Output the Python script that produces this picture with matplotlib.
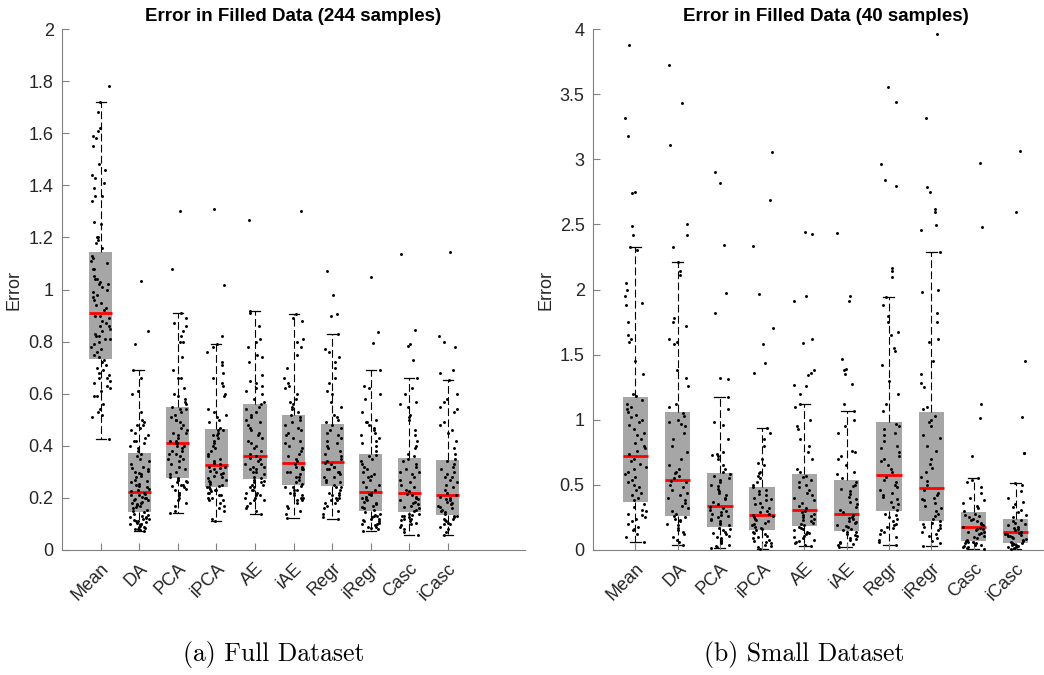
import matplotlib
matplotlib.use('Agg')
import matplotlib.pyplot as plt
import numpy as np

labels = ['Mean', 'DA', 'PCA', 'iPCA', 'AE', 'iAE', 'Regr', 'iRegr', 'Casc', 'iCasc']

# ---- full dataset (244 samples) ----
full_whislo = [0.428, 0.074, 0.143, 0.110, 0.140, 0.123, 0.120, 0.074, 0.056, 0.056]
full_q1 = [0.734, 0.147, 0.278, 0.243, 0.271, 0.250, 0.245, 0.151, 0.145, 0.135]
full_med = [0.909, 0.221, 0.412, 0.327, 0.359, 0.333, 0.338, 0.223, 0.220, 0.213]
full_q3 = [1.143, 0.373, 0.548, 0.464, 0.559, 0.517, 0.483, 0.370, 0.355, 0.347]
full_whishi = [1.719, 0.692, 0.908, 0.789, 0.916, 0.907, 0.830, 0.692, 0.662, 0.651]

full_mean = [0.428, 0.51, 0.52, 0.53, 0.54, 0.56, 0.59, 0.59, 0.61, 0.62, 0.63, 0.64, 0.65, 0.66,
             0.66, 0.67, 0.68, 0.69, 0.70, 0.71, 0.72, 0.73,
             0.74, 0.75, 0.76, 0.77, 0.78, 0.79, 0.80, 0.81, 0.81, 0.82, 0.82, 0.83, 0.84, 0.85,
             0.86, 0.86, 0.87, 0.88, 0.89, 0.90, 0.90,
             0.92, 0.93, 0.94, 0.95, 0.96, 0.97, 0.98, 0.99, 1.00, 1.01, 1.02, 1.02, 1.03, 1.04,
             1.04, 1.05, 1.08, 1.08, 1.10, 1.11, 1.12, 1.13,
             1.16, 1.18, 1.19, 1.20, 1.20, 1.25, 1.26, 1.34, 1.36, 1.36, 1.39, 1.41, 1.43, 1.44,
             1.46, 1.48, 1.55, 1.58, 1.59, 1.61, 1.62, 1.68, 1.719, 1.78]
full_da = [0.074, 0.078, 0.080, 0.082, 0.085, 0.088, 0.090, 0.092, 0.095, 0.098, 0.100, 0.100,
           0.105, 0.108, 0.110, 0.112, 0.115, 0.118, 0.120, 0.122, 0.125, 0.128, 0.130, 0.135,
           0.140, 0.145,
           0.150, 0.155, 0.160, 0.165, 0.170, 0.172, 0.175, 0.180, 0.182, 0.185, 0.190, 0.190,
           0.195, 0.200, 0.200, 0.205, 0.210, 0.212, 0.215, 0.218,
           0.225, 0.230, 0.235, 0.240, 0.245, 0.250, 0.255, 0.260, 0.265, 0.270, 0.280, 0.285,
           0.290, 0.295, 0.300, 0.305, 0.310, 0.315, 0.320, 0.330, 0.340, 0.350, 0.360, 0.370,
           0.38, 0.39, 0.40, 0.41, 0.42, 0.42, 0.43, 0.44, 0.45, 0.46, 0.47, 0.48, 0.48, 0.49,
           0.50, 0.53, 0.60, 0.61, 0.66, 0.692, 0.79, 0.84, 1.034]
full_pca = [0.143, 0.15, 0.17, 0.18, 0.19, 0.20, 0.21, 0.22, 0.22, 0.23, 0.235, 0.24, 0.245,
            0.25, 0.25, 0.26, 0.26, 0.265, 0.27, 0.27, 0.275,
            0.28, 0.29, 0.30, 0.31, 0.32, 0.33, 0.34, 0.35, 0.35, 0.36, 0.37, 0.37, 0.38, 0.38,
            0.39, 0.40, 0.40, 0.41, 0.41,
            0.42, 0.42, 0.43, 0.44, 0.45, 0.45, 0.46, 0.47, 0.48, 0.49, 0.50, 0.50, 0.51, 0.52,
            0.53, 0.54, 0.54,
            0.55, 0.56, 0.57, 0.58, 0.59, 0.60, 0.62, 0.66, 0.66, 0.69, 0.74, 0.80, 0.80, 0.82,
            0.84, 0.86, 0.87, 0.89, 0.908, 1.08, 1.30]
full_ipca = [0.110, 0.12, 0.15, 0.16, 0.17, 0.18, 0.19, 0.19, 0.20, 0.20, 0.21, 0.21, 0.22,
             0.22, 0.225, 0.23, 0.23, 0.235, 0.24, 0.24,
             0.245, 0.25, 0.255, 0.26, 0.265, 0.27, 0.275, 0.28, 0.285, 0.29, 0.295, 0.30,
             0.305, 0.31, 0.315, 0.32, 0.32,
             0.33, 0.335, 0.34, 0.35, 0.36, 0.37, 0.38, 0.39, 0.40, 0.41, 0.42, 0.43, 0.44, 0.44,
             0.45, 0.46, 0.46,
             0.47, 0.49, 0.50, 0.51, 0.52, 0.53, 0.54, 0.59, 0.60, 0.63, 0.64, 0.66, 0.68, 0.71,
             0.72, 0.76, 0.78, 0.789, 0.82, 1.017, 1.309]
full_ae = [0.140, 0.15, 0.16, 0.17, 0.18, 0.19, 0.19, 0.20, 0.20, 0.21, 0.21, 0.22, 0.22, 0.23,
           0.23, 0.24, 0.24, 0.25, 0.25, 0.26, 0.26, 0.265, 0.27,
           0.275, 0.28, 0.29, 0.30, 0.30, 0.31, 0.31, 0.32, 0.32, 0.33, 0.33, 0.34, 0.35, 0.355,
           0.36, 0.37, 0.38, 0.39, 0.40, 0.41, 0.42, 0.43, 0.44, 0.45, 0.46, 0.47, 0.48, 0.49,
           0.50, 0.51, 0.52, 0.53, 0.54, 0.55,
           0.56, 0.57, 0.58, 0.60, 0.61, 0.62, 0.63, 0.64, 0.65, 0.67, 0.72, 0.74, 0.75, 0.78,
           0.80, 0.81, 0.86, 0.91, 0.916, 1.266]
full_iae = [0.123, 0.14, 0.15, 0.16, 0.17, 0.18, 0.19, 0.19, 0.20, 0.20, 0.21, 0.21, 0.22, 0.22,
            0.23, 0.23, 0.24, 0.24, 0.245,
            0.255, 0.26, 0.27, 0.28, 0.28, 0.29, 0.30, 0.30, 0.31, 0.31, 0.32, 0.32, 0.33,
            0.34, 0.35, 0.36, 0.37, 0.38, 0.39, 0.40, 0.41, 0.42, 0.43, 0.44, 0.45, 0.46, 0.47,
            0.48, 0.49, 0.50, 0.51,
            0.52, 0.53, 0.54, 0.55, 0.56, 0.57, 0.58, 0.60, 0.62, 0.63, 0.64, 0.66, 0.70, 0.75,
            0.78, 0.80, 0.81, 0.88, 0.89, 0.907, 1.30]
full_regr = [0.120, 0.125, 0.14, 0.15, 0.16, 0.17, 0.18, 0.18, 0.19, 0.19, 0.20, 0.20, 0.21,
             0.21, 0.22, 0.22, 0.23, 0.24, 0.24,
             0.25, 0.26, 0.26, 0.27, 0.28, 0.28, 0.29, 0.30, 0.30, 0.31, 0.31, 0.32, 0.32, 0.33,
             0.335,
             0.34, 0.35, 0.36, 0.37, 0.38, 0.39, 0.40, 0.41, 0.42, 0.43, 0.44, 0.45, 0.46, 0.47,
             0.48,
             0.49, 0.50, 0.51, 0.52, 0.55, 0.57, 0.60, 0.61, 0.64, 0.66, 0.70, 0.72, 0.74, 0.76,
             0.77, 0.830, 0.900, 0.907, 0.977, 1.07]
full_iregr = [0.074, 0.080, 0.085, 0.088, 0.090, 0.095, 0.100, 0.100, 0.105, 0.110, 0.110,
              0.115, 0.120, 0.120, 0.125, 0.130, 0.130, 0.135, 0.140, 0.145,
              0.155, 0.160, 0.165, 0.170, 0.175, 0.180, 0.185, 0.190, 0.195, 0.200, 0.205,
              0.210, 0.215, 0.220,
              0.23, 0.24, 0.25, 0.26, 0.27, 0.28, 0.285, 0.29, 0.30, 0.31, 0.32, 0.33, 0.34,
              0.35, 0.36, 0.365,
              0.38, 0.40, 0.41, 0.42, 0.43, 0.44, 0.45, 0.46, 0.47, 0.48, 0.49, 0.49, 0.50, 0.53,
              0.58, 0.60, 0.62, 0.63, 0.692, 0.794, 0.835, 1.047]
full_casc = [0.056, 0.070, 0.080, 0.090, 0.095, 0.100, 0.105, 0.110, 0.115, 0.120, 0.120,
             0.125, 0.130, 0.130, 0.135, 0.140, 0.140,
             0.150, 0.155, 0.160, 0.165, 0.170, 0.175, 0.180, 0.185, 0.190, 0.195, 0.200,
             0.205, 0.210, 0.215,
             0.225, 0.23, 0.24, 0.25, 0.26, 0.27, 0.28, 0.29, 0.30, 0.30, 0.31, 0.32, 0.33,
             0.34, 0.35,
             0.36, 0.37, 0.39, 0.40, 0.42, 0.44, 0.46, 0.50, 0.51, 0.52, 0.55, 0.56, 0.57, 0.60,
             0.62, 0.662, 0.728, 0.785, 0.79, 0.845, 1.137]
full_icasc = [0.056, 0.070, 0.080, 0.090, 0.100, 0.100, 0.105, 0.110, 0.115, 0.120, 0.120,
              0.125, 0.130, 0.130,
              0.140, 0.145, 0.150, 0.155, 0.160, 0.165, 0.170, 0.175, 0.180, 0.185, 0.190,
              0.195, 0.200, 0.205, 0.210,
              0.22, 0.23, 0.24, 0.25, 0.26, 0.27, 0.28, 0.28, 0.29, 0.30, 0.31, 0.32, 0.33,
              0.34,
              0.35, 0.37, 0.39, 0.42, 0.45, 0.46, 0.48, 0.49, 0.53, 0.54, 0.55, 0.57, 0.58,
              0.60, 0.651, 0.68, 0.69, 0.78, 0.80, 0.82, 1.145]

# ---- small dataset (40 samples) ----
small_whislo = [0.061, 0.036, 0.013, 0.010, 0.031, 0.026, 0.038, 0.033, 0.010, 0.010]
small_q1 = [0.371, 0.264, 0.179, 0.154, 0.187, 0.148, 0.302, 0.225, 0.072, 0.056]
small_med = [0.724, 0.535, 0.338, 0.271, 0.305, 0.276, 0.576, 0.473, 0.177, 0.136]
small_q3 = [1.172, 1.062, 0.589, 0.486, 0.581, 0.535, 0.980, 1.062, 0.289, 0.238]
small_whishi = [2.324, 2.214, 1.172, 0.939, 1.123, 1.070, 1.945, 2.285, 0.555, 0.512]

small_mean = [0.061, 0.10, 0.12, 0.15, 0.16, 0.18, 0.20, 0.22, 0.24, 0.25, 0.27, 0.28, 0.30,
              0.31, 0.33, 0.35,
              0.38, 0.40, 0.42, 0.44, 0.46, 0.48, 0.50, 0.52, 0.54, 0.56, 0.58, 0.60, 0.62,
              0.64, 0.66, 0.68, 0.70,
              0.74, 0.76, 0.78, 0.80, 0.82, 0.85, 0.88, 0.90, 0.93, 0.96, 0.98, 1.00, 1.02,
              1.04, 1.06, 1.08, 1.10, 1.12, 1.15,
              1.18, 1.20, 1.35, 1.45, 1.60, 1.62, 1.65, 1.75, 1.88, 1.90, 1.95, 2.00, 2.05,
              2.30, 2.324, 2.42, 2.485, 2.74, 2.751, 3.178, 3.314, 3.875]
small_da = [0.036, 0.06, 0.08, 0.10, 0.12, 0.14, 0.15, 0.17, 0.19, 0.20, 0.22, 0.23, 0.24,
            0.25, 0.26,
            0.28, 0.30, 0.32, 0.34, 0.36, 0.38, 0.40, 0.42, 0.44, 0.46, 0.48, 0.50, 0.52, 0.53,
            0.55, 0.57, 0.59, 0.60, 0.62, 0.65, 0.70, 0.75, 0.80, 0.85, 0.90, 0.95, 0.97, 0.98,
            1.00, 1.03, 1.05,
            1.10, 1.12, 1.26, 1.32, 1.38, 1.58, 1.60, 1.62, 1.72, 1.75, 1.78, 2.11, 2.14, 2.214,
            2.329, 2.42, 2.50, 3.107, 3.434, 3.721]
small_pca = [0.013, 0.02, 0.03, 0.04, 0.05, 0.06, 0.07, 0.08, 0.09, 0.10, 0.11, 0.12, 0.13,
             0.14, 0.15, 0.16, 0.17,
             0.19, 0.20, 0.21, 0.22, 0.23, 0.24, 0.25, 0.26, 0.27, 0.28, 0.29, 0.30, 0.31,
             0.32, 0.33,
             0.35, 0.37, 0.39, 0.40, 0.42, 0.44, 0.45, 0.47, 0.49, 0.50, 0.52, 0.54, 0.55,
             0.57, 0.58,
             0.60, 0.62, 0.65, 0.70, 0.72, 0.73, 0.74, 0.75, 0.85, 0.96, 0.98, 1.08, 1.172,
             1.31, 1.323, 1.822, 1.976, 2.342, 2.82, 2.902]
small_ipca = [0.010, 0.02, 0.03, 0.04, 0.05, 0.06, 0.07, 0.08, 0.09, 0.10, 0.11, 0.12, 0.13,
              0.14, 0.15,
              0.16, 0.17, 0.18, 0.19, 0.20, 0.21, 0.22, 0.23, 0.24, 0.25, 0.26, 0.265,
              0.28, 0.29, 0.30, 0.32, 0.33, 0.35, 0.36, 0.38, 0.39, 0.40, 0.42, 0.43, 0.45,
              0.46, 0.48,
              0.50, 0.52, 0.55, 0.57, 0.59, 0.60, 0.65, 0.67, 0.70, 0.80, 0.85, 0.90, 0.939,
              1.356, 1.433, 1.579, 1.702, 1.963, 2.332, 2.687, 3.058]
small_ae = [0.031, 0.04, 0.05, 0.06, 0.07, 0.08, 0.09, 0.10, 0.11, 0.12, 0.13, 0.14, 0.15,
            0.16, 0.17, 0.18,
            0.19, 0.20, 0.21, 0.22, 0.23, 0.24, 0.25, 0.26, 0.27, 0.28, 0.29, 0.30,
            0.32, 0.34, 0.36, 0.38, 0.40, 0.42, 0.44, 0.46, 0.48, 0.50, 0.52, 0.54, 0.56, 0.57,
            0.60, 0.62, 0.70, 0.75, 0.80, 0.85, 0.93, 0.95, 1.00, 1.10, 1.123,
            1.198, 1.26, 1.267, 1.34, 1.36, 1.382, 1.587, 1.617, 1.912, 1.953, 2.425, 2.44]
small_iae = [0.026, 0.035, 0.045, 0.055, 0.065, 0.075, 0.085, 0.095, 0.105, 0.115, 0.125,
             0.135, 0.140,
             0.155, 0.165, 0.175, 0.185, 0.195, 0.205, 0.215, 0.225, 0.235, 0.245, 0.255,
             0.265,
             0.29, 0.31, 0.33, 0.35, 0.37, 0.39, 0.41, 0.43, 0.45, 0.47, 0.49, 0.50, 0.52,
             0.55, 0.58, 0.60, 0.65, 0.70, 0.72, 0.75, 0.76, 0.90, 0.95, 1.00, 1.070,
             1.121, 1.274, 1.35, 1.38, 1.39, 1.469, 1.912, 1.953, 2.431]
small_regr = [0.038, 0.06, 0.08, 0.10, 0.12, 0.14, 0.15, 0.17, 0.18, 0.19, 0.20, 0.22, 0.24,
              0.25, 0.27, 0.28,
              0.31, 0.33, 0.35, 0.37, 0.39, 0.41, 0.42, 0.44, 0.46, 0.48, 0.50, 0.52, 0.54,
              0.56,
              0.60, 0.62, 0.65, 0.68, 0.70, 0.72, 0.75, 0.78, 0.80, 0.84, 0.88, 0.90, 0.93,
              0.95, 0.97,
              1.07, 1.12, 1.20, 1.30, 1.42, 1.53, 1.55, 1.65, 1.67, 1.75, 1.80, 1.88, 1.945,
              2.094, 2.142, 2.163, 2.795, 2.841, 2.966, 3.437, 3.552]
small_iregr = [0.033, 0.05, 0.07, 0.09, 0.11, 0.12, 0.14, 0.15, 0.17, 0.18, 0.19, 0.20, 0.21,
               0.22,
               0.24, 0.26, 0.28, 0.30, 0.32, 0.34, 0.36, 0.38, 0.39, 0.40, 0.42, 0.44, 0.46,
               0.50, 0.53, 0.56, 0.60, 0.63, 0.66, 0.70, 0.76, 0.80, 0.86, 0.88, 0.95, 0.98,
               1.00, 1.03,
               1.08, 1.10, 1.25, 1.28, 1.35, 1.45, 1.60, 1.62, 1.75, 1.82, 1.98, 2.00, 2.285,
               2.459, 2.498, 2.595, 2.616, 2.749, 2.784, 3.314, 3.959]
small_casc = [0.010, 0.015, 0.020, 0.025, 0.030, 0.035, 0.040, 0.045, 0.050, 0.055, 0.060,
              0.065, 0.070,
              0.08, 0.09, 0.10, 0.11, 0.12, 0.13, 0.135, 0.14, 0.15, 0.16, 0.165, 0.17,
              0.18, 0.19, 0.20, 0.21, 0.22, 0.23, 0.24, 0.25, 0.26, 0.27, 0.28,
              0.30, 0.32, 0.34, 0.36, 0.38, 0.40, 0.44, 0.48, 0.52, 0.54, 0.555,
              0.724, 1.011, 1.121, 2.482, 2.974]
small_icasc = [0.010, 0.015, 0.020, 0.025, 0.030, 0.035, 0.040, 0.045, 0.050, 0.055,
               0.060, 0.070, 0.080, 0.085, 0.090, 0.100, 0.105, 0.110, 0.115, 0.120, 0.125,
               0.130,
               0.14, 0.15, 0.16, 0.17, 0.18, 0.19, 0.20, 0.21, 0.22, 0.23,
               0.25, 0.27, 0.29, 0.31, 0.33, 0.35, 0.37, 0.40, 0.45, 0.50, 0.512,
               0.742, 0.742, 1.019, 1.449, 2.593, 3.062]

full_points = [full_mean, full_da, full_pca, full_ipca, full_ae, full_iae,
               full_regr, full_iregr, full_casc, full_icasc]
small_points = [small_mean, small_da, small_pca, small_ipca, small_ae, small_iae,
                small_regr, small_iregr, small_casc, small_icasc]

plt.rcParams['font.family'] = ['Liberation Sans', 'DejaVu Sans']

axis_grey = '#808080'
text_grey = '#262626'


def jitter(n, group):
    # deterministic hash-style scatter in [-0.25, 0.25] for the point x offsets
    k = np.arange(n) + 1.0
    h = np.sin(k * 12.9898 + group * 78.233) * 43758.5453
    return (h - np.floor(h) - 0.5) * 0.5


def draw_panel(ax, whislo, q1, med, q3, whishi, points, title, ymax, ystep, xmax):
    stats = []
    for i in range(len(labels)):
        stats.append({'whislo': whislo[i], 'q1': q1[i], 'med': med[i],
                      'q3': q3[i], 'whishi': whishi[i], 'fliers': []})
    pos = np.arange(1, len(labels) + 1)
    ax.bxp(stats, positions=pos, widths=0.6, capwidths=0.26, patch_artist=True,
           showfliers=False,
           boxprops=dict(facecolor='#a6a6a6', edgecolor='none'),
           medianprops=dict(color='red', linewidth=2.0, solid_capstyle='butt'),
           whiskerprops=dict(color='black', linewidth=0.8, linestyle=(0, (7, 3))),
           capprops=dict(color='black', linewidth=0.9),
           zorder=1)

    for i, vals in enumerate(points):
        ax.scatter(pos[i] + jitter(len(vals), i), vals, s=4.5, color='black',
                   linewidths=0, zorder=3)

    ax.set_xlim(0, xmax)
    ax.set_ylim(0, ymax)
    ax.set_yticks(np.arange(0, ymax + 1e-9, ystep))
    ax.yaxis.set_major_formatter(matplotlib.ticker.FormatStrFormatter('%g'))
    ax.set_xticks(pos)
    ax.set_xticklabels(labels, rotation=45, ha='right', rotation_mode='anchor')
    for s in ['top', 'right']:
        ax.spines[s].set_visible(False)
    for s in ['left', 'bottom']:
        ax.spines[s].set_color(axis_grey)
        ax.spines[s].set_linewidth(0.8)
    ax.tick_params(direction='in', length=5, width=0.8, color=axis_grey,
                   labelcolor=text_grey, labelsize=13)
    ax.tick_params(axis='y', pad=6)
    ax.tick_params(axis='x', pad=7)
    ax.set_ylabel('Error', fontsize=13, color=text_grey, labelpad=4)
    ax.set_title(title, fontsize=13.5, fontweight='bold', pad=6)


fig = plt.figure(figsize=(10.44, 6.75), dpi=100)
ax1 = fig.add_axes([0.0594, 0.1852, 0.4435, 0.7718])
ax2 = fig.add_axes([0.5680, 0.1852, 0.4455, 0.7718])

draw_panel(ax1, full_whislo, full_q1, full_med, full_q3, full_whishi, full_points,
           'Error in Filled Data (244 samples)', 2.0, 0.2, 12)
draw_panel(ax2, small_whislo, small_q1, small_med, small_q3, small_whishi, small_points,
           'Error in Filled Data (40 samples)', 4.0, 0.5, 11)

fig.text(0.262, 1 - 655 / 675, '(a) Full Dataset', family='cmr10', fontsize=18.5,
         ha='center', va='center')
fig.text(0.770, 1 - 655 / 675, '(b) Small Dataset', family='cmr10', fontsize=18.5,
         ha='center', va='center')

fig.savefig('out.png', dpi=100)
